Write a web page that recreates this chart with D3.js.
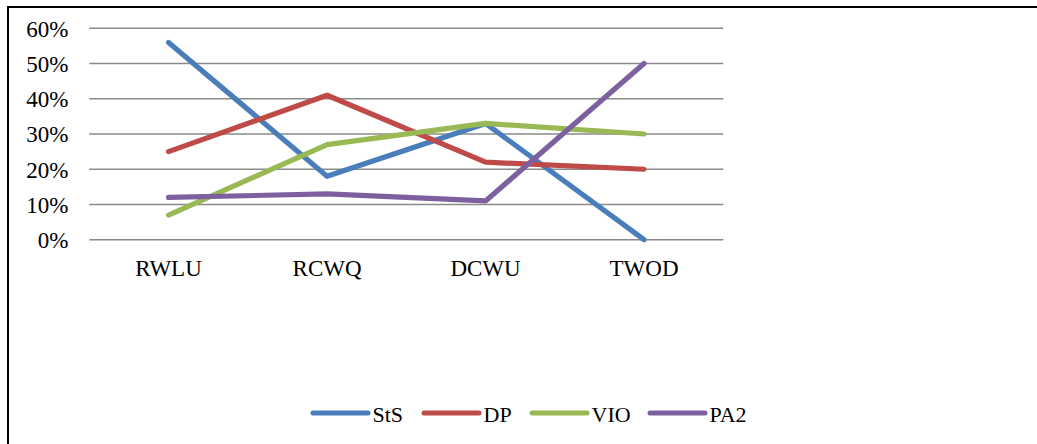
<!DOCTYPE html>
<html><head><meta charset="utf-8">
<script src="https://cdn.jsdelivr.net/npm/d3@7"></script>
<style>html,body{margin:0;padding:0;background:#fff;overflow:hidden}
svg text{font-family:"Liberation Serif","Times New Roman","DejaVu Serif",serif !important;}</style>
</head><body>
<svg id="c" width="1037" height="444"></svg>
<script>
const categories = ["RWLU", "RCWQ", "DCWU", "TWOD"];
const seriesNames = ["StS", "DP", "VIO", "PA2"];
const sts = [0.56, 0.18, 0.33, 0.00];
const dp  = [0.25, 0.41, 0.22, 0.20];
const vio = [0.07, 0.27, 0.33, 0.30];
const pa2 = [0.12, 0.13, 0.11, 0.50];
const yTicks = [0, 0.1, 0.2, 0.3, 0.4, 0.5, 0.6];
const colors = ["#4A7EBB", "#BE4B48", "#98B954", "#7D60A0"];

const series = [sts, dp, vio, pa2].map((v, i) => ({name: seriesNames[i], values: v, color: colors[i]}));
const svg = d3.select("#c");

svg.append("rect").attr("x", 8).attr("y", 7).attr("width", 1060).attr("height", 470)
  .attr("fill", "none").attr("stroke", "#000").attr("stroke-width", 2);

const x = d3.scaleBand().domain(categories).range([89.3, 723.3]).padding(0);
const y = d3.scaleLinear().domain([0, 0.6]).range([239.7, 28.3]);

// gridlines
svg.append("g").selectAll("line").data(yTicks).join("line")
  .attr("x1", 89.3).attr("x2", 723.3)
  .attr("y1", d => y(d)).attr("y2", d => y(d))
  .attr("stroke", "#8a8a8a").attr("stroke-width", 1.4);

// y axis labels
const yAxis = d3.axisLeft(y).tickValues(yTicks).tickFormat(d3.format(".0%")).tickSize(0).tickPadding(0);
const yg = svg.append("g").attr("transform", "translate(68.5,0)").call(yAxis);
yg.select(".domain").remove();
yg.selectAll("text").style("font-size", "23px").attr("fill", "#000").attr("dy", "0.34em");

// x axis labels
const xAxis = d3.axisBottom(x).tickSize(0).tickPadding(0);
const xg = svg.append("g").attr("transform", "translate(0,276)").call(xAxis);
xg.select(".domain").remove();
xg.selectAll("text").style("font-size", "23px").attr("fill", "#000").attr("dy", 0);

// lines
const line = d3.line().x((d, i) => x(categories[i]) + x.bandwidth() / 2).y(d => y(d));
svg.append("g").selectAll("path").data(series).join("path")
  .attr("d", d => line(d.values))
  .attr("fill", "none").attr("stroke", d => d.color).attr("stroke-width", 5.2)
  .attr("stroke-linejoin", "round").attr("stroke-linecap", "round");

// legend
const legX = [313, 424, 532, 650];
const lg = svg.append("g").selectAll("g").data(series).join("g")
  .attr("transform", (d, i) => `translate(${legX[i]},413)`);
lg.append("line").attr("x1", 0).attr("x2", 55).attr("y1", 0).attr("y2", 0)
  .attr("stroke", d => d.color).attr("stroke-width", 5).attr("stroke-linecap", "round");
lg.append("text").attr("x", 59.5).attr("y", 8.5).text(d => d.name)
  .style("font-size", "22px").attr("fill", "#000");
</script>
</body></html>
